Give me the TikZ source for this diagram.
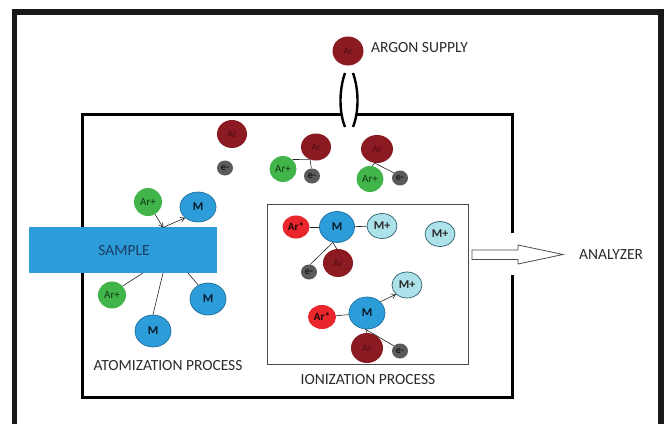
\documentclass[tikz,border=0pt]{standalone}
\usepackage{fontspec}
\setmainfont{Carlito}
\usetikzlibrary{shapes.geometric,arrows.meta}

\definecolor{argonred}{HTML}{8C1A22}
\definecolor{argontext}{HTML}{4E0A10}
\definecolor{ionred}{HTML}{E8262C}
\definecolor{ionplus}{HTML}{41B549}
\definecolor{metal}{HTML}{2C9DD9}
\definecolor{metaledge}{HTML}{1F6E9E}
\definecolor{metalion}{HTML}{ADE2EA}
\definecolor{metalionedge}{HTML}{2D5F6A}
\definecolor{electron}{HTML}{5B5B5B}
\definecolor{labeltext}{HTML}{2B2B2B}
\definecolor{sampletext}{HTML}{1C3D63}

\tikzset{
  sz/.style 2 args={minimum width=#1pt, minimum height=#2pt},
  particle/.style={ellipse, inner sep=0pt},
  argon/.style={particle, fill=argonred, text=argontext, font=\fontsize{10}{10}\selectfont},
  argonplus/.style={particle, fill=ionplus, text=black!70!ionplus, font=\fontsize{11}{11}\selectfont},
  argonstar/.style={particle, fill=ionred, text=black!80!argonred, font=\bfseries\fontsize{11}{11}\selectfont},
  atom/.style={particle, fill=metal, draw=metaledge, line width=0.7pt, text=black!80!metaledge, font=\bfseries\fontsize{12}{12}\selectfont},
  ion/.style={particle, fill=metalion, draw=metalionedge, line width=0.7pt, text=black!85, font=\bfseries\fontsize{12}{12}\selectfont},
  elec/.style={particle, fill=electron, text=black!90, font=\bfseries\fontsize{10}{10}\selectfont},
  bond/.style={line width=0.6pt, black!85},
  push/.style={bond, -{Straight Barb[length=4pt,width=5pt]}},
  caption/.style={text=labeltext, font=\fontsize{15.5}{16}\selectfont, inner sep=0pt},
}

\begin{document}
\begin{tikzpicture}[x=1pt,y=-1pt]
\useasboundingbox (0,0) rectangle (669,423);
\clip (0,0) rectangle (669,423);
\fill[white] (0,0) rectangle (669,423);

% instrument housing
\draw[line width=5.5pt, black!90] (14.5,440) -- (14.5,12) -- (661,12) -- (661,440);

% plasma chamber with argon inlet and exit slit
\draw[line width=3pt] (341,114) -- (82.5,114) -- (82.5,397) -- (512.5,397) -- (512.5,275);
\draw[line width=3pt] (512.5,233) -- (512.5,114) -- (357,114);
\draw[line width=2.4pt] (345,73) .. controls (339,90) and (339,112) .. (345,127);
\draw[line width=2.4pt] (353,73) .. controls (359,90) and (359,112) .. (353,127);

% argon source
\node[argon, sz={31}{29}] (src) at (348,51) {Ar};
\node[caption, anchor=base west] (srclabel) at (371,52) {ARGON SUPPLY};

% free argon in the chamber
\node[argon, sz={30}{28}] (ar1) at (232,134) {Ar};
\node[elec, sz={16}{15}] (e1) at (225,168) {e-};

\node[argon, sz={30}{27}] (ar2) at (316,147) {Ar};
\node[argonplus, sz={27}{26}] (ap1) at (283,169) {Ar+};
\node[elec, sz={16}{15}] (e2) at (312,176) {e-};
\draw[bond] (ar2.-115) -- (ap1.45);
\draw[bond] (ar2.-115) -- (e2.95);

\node[argon, sz={32}{28}] (ar3) at (377,149) {Ar};
\node[argonplus, sz={27}{26}] (ap2) at (370,179) {Ar+};
\node[elec, sz={16}{15}] (e3) at (400,178) {e-};
\draw[bond] (ar3.-100) -- (ap2.80);
\draw[bond] (ar3.-100) -- (e3.140);

% atomization at the sample surface
\node[argonplus, sz={28}{28}] (ap3) at (148,202) {Ar+};
\node[atom, sz={36}{30}] (m1) at (198,207) {M};
\node[argonplus, sz={28}{27}] (ap4) at (112,295) {Ar+};
\node[atom, sz={36}{32}] (m2) at (208,299) {M};
\node[atom, sz={36}{32}] (m3) at (153,331) {M};

\node[fill=metal, minimum width=188pt, minimum height=46pt, inner sep=0pt] (sample) at (123,250) {};
\node[caption, text=sampletext, anchor=base] (samplelabel) at (124,255) {SAMPLE};

\coordinate (hit) at (163,227.5);
\coordinate (s1) at (143,273);
\coordinate (s2) at (163,273);
\coordinate (s3) at (188,273);
\draw[push] (ap3.-60) -- (hit);
\draw[push] (hit) -- (m1.-140);
\draw[bond] (s1) -- (ap4.40);
\draw[bond] (s2) -- (m3.north);
\draw[bond] (s3) -- (m2.125);

\node[caption, anchor=base] (atomlabel) at (168,370) {ATOMIZATION PROCESS};

% ionization region
\draw[line width=0.9pt, black!70] (267.5,204.5) rectangle (468.5,364);

\node[argonstar, sz={27}{23}] (as1) at (296,227) {Ar*};
\node[atom, sz={35}{31}] (m4) at (337,227) {M};
\node[ion, sz={30}{25}] (mp1) at (382,226) {M+};
\node[ion, sz={30}{25}] (mp2) at (440,234) {M+};
\node[argon, sz={30}{28}] (ar4) at (338,263) {Ar};
\node[elec, sz={16}{15}] (e4) at (309,272) {e-};
\draw[bond] (as1) -- (m4);
\draw[bond] (m4) -- (mp1);
\draw[bond] (m4.-105) -- (e4.80);
\draw[bond] (m4.-105) -- (ar4.95);

\node[ion, sz={30}{26}] (mp3) at (407,285) {M+};
\node[atom, sz={36}{32}] (m5) at (367,313) {M};
\node[argonstar, sz={28}{24}] (as2) at (322,317) {Ar*};
\node[argon, sz={32}{30}] (ar5) at (367,348) {Ar};
\node[elec, sz={16}{15}] (e5) at (400,351) {e-};
\draw[bond] (as2) -- (m5);
\draw[push] (m5.40) -- (mp3.-140);
\draw[bond] (m5.-95) -- (e5.140);
\draw[bond] (m5.-95) -- (ar5.north);

\node[caption, anchor=base] (ionlabel) at (368,384) {IONIZATION PROCESS};

% ions leaving for the analyzer
\draw[line width=0.8pt, black!70, fill=white, line join=miter]
  (472,250) -- (518,250) -- (518,245) -- (563,254.5) -- (518,264) -- (518,259.5) -- (472,259.5) -- cycle;
\node[caption, anchor=base west] (analyzer) at (579,259) {ANALYZER};
\end{tikzpicture}
\end{document}
